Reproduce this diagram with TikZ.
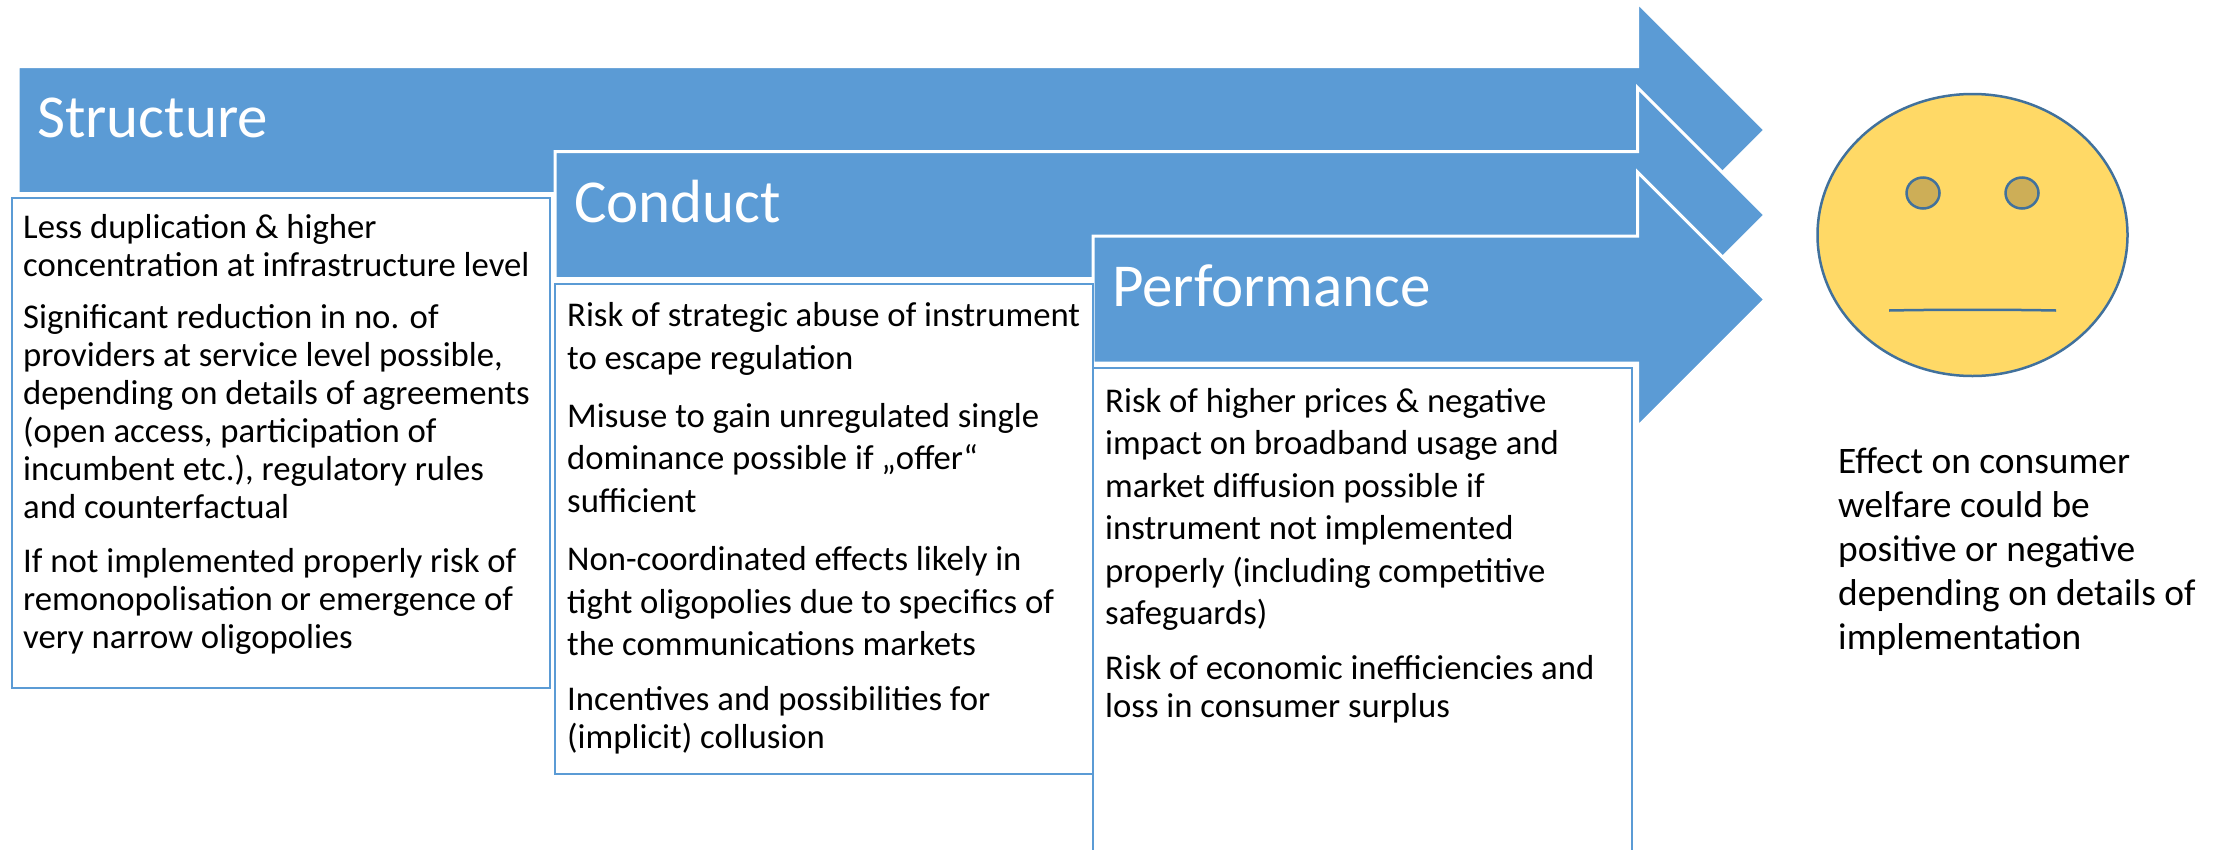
\documentclass[tikz,border=0pt]{standalone}
\usepackage{fontspec}
\setmainfont{Carlito}
\usetikzlibrary{shapes.geometric}
\definecolor{stageblue}{HTML}{5B9BD5}
\definecolor{facefill}{HTML}{FFD966}
\definecolor{faceline}{HTML}{41719C}
\definecolor{eyefill}{HTML}{CDAE57}
\tikzset{
 stagearrow/.style={fill=stageblue,draw=white,line width=3pt,miter limit=10},
 stagetext/.style={text=white,anchor=base west,inner sep=0pt,font=\fontsize{61}{70}\selectfont},
 panelbox/.style={fill=white,draw=stageblue,line width=2.8pt},
 paneltext/.style={anchor=north west,inner sep=0pt,align=left,text=black},
 eye/.style={ellipse,draw=faceline,fill=eyefill,line width=2.5pt,minimum width=33pt,minimum height=31pt,inner sep=0pt}
}
\newcommand{\stage}[4]{%
 \draw [stagearrow] (#2,#3-63.5) -- (1637.5,#3-63.5) -- (1637.5,#3-127.5) -- (1765,#3) -- (1637.5,#3+127.5) -- (1637.5,#3+63.5) -- (#2,#3+63.5) -- cycle;%
 \node ({#1}) at (#2+19,#3+7) [stagetext] {#4};%
}
\begin{document}
\begin{tikzpicture}[x=1pt,y=-1pt]
  \clip (0,0) rectangle (2223,849);
  \stage{structure}{18}{130}{Structure};
  \stage{conduct}{555}{215}{Conduct};
  \stage{performance}{1093}{299.5}{Performance};
  \draw[panelbox] (12,198) rectangle (550,688);
  \draw[panelbox] (555,284) rectangle (1093,774);
  \draw[panelbox] (1093,368) rectangle (1632,870);
  \node (structuretext) [paneltext,font=\fontsize{34.7}{38}\selectfont] at (23,214.5) {Less duplication \& higher\\concentration at infrastructure level\\[14pt]Significant reduction in no. of\\providers at service level possible,\\depending on details of agreements\\(open access, participation of\\incumbent etc.), regulatory rules\\and counterfactual\\[16pt]If not implemented properly risk of\\remonopolisation or emergence of\\very narrow oligopolies};
  \node (conducttext) [paneltext,font=\fontsize{34.7}{42.7}\selectfont] at (567,302.5) {Risk of strategic abuse of instrument\\to escape regulation\\[15pt]Misuse to gain unregulated single\\dominance possible if „offer“\\sufficient\\[15pt]Non-coordinated effects likely in\\tight oligopolies due to specifics of\\the communications markets\\[12pt]Incentives and possibilities for\\[-5pt](implicit) collusion};
  \node (performancetext) [paneltext,font=\fontsize{34.7}{42.5}\selectfont] at (1105,388) {Risk of higher prices \& negative\\impact on broadband usage and\\market diffusion possible if\\instrument not implemented\\properly (including competitive\\safeguards)\\[12pt]Risk of economic inefficiencies and\\[-4.5pt]loss in consumer surplus};
  \node (face) [ellipse,draw=faceline,fill=facefill,line width=2.5pt,minimum width=310pt,minimum height=282pt,inner sep=0pt] at (1972.5,235) {};
  \node (lefteye) [eye] at (1923,193) {};
  \node (righteye) [eye] at (2022,193) {};
  \draw[faceline,line width=2.5pt] (1889,310.5) .. controls (1940,309.5) and (2005,309.5) .. (2056,310.5);
  \node (effecttext) [paneltext,font=\fontsize{37.4}{44.2}\selectfont] at (1838,447) {Effect on consumer\\welfare could be\\positive or negative\\depending on details of\\implementation};
\end{tikzpicture}
\end{document}
